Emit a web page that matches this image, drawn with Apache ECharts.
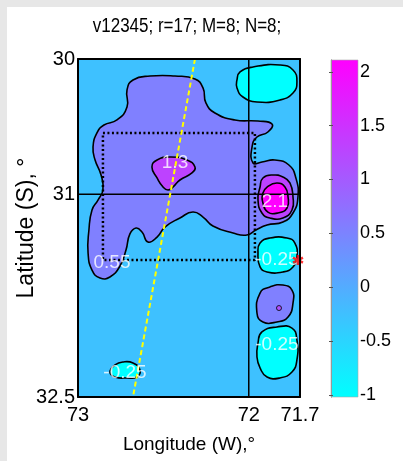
<!DOCTYPE html>
<html><head><meta charset="utf-8">
<script src="https://cdn.jsdelivr.net/npm/echarts@6/dist/echarts.min.js"></script>
<style>
html,body{margin:0;padding:0;background:#e7e7e7;}
#wrap{position:relative;width:403px;height:461px;overflow:hidden;}
#paper{position:absolute;left:7px;top:7px;width:396px;height:454px;background:#fff;}
#c{position:absolute;left:0;top:0;width:403px;height:461px;}
</style>
</head><body><div id="wrap"><div id="paper"></div><div id="c"></div></div>
<script>
// ---------------- data ----------------
const titleText = 'v12345; r=17; M=8; N=8;';
const lonTicks = [73, 72, 71.7];
const latTicks = [30, 31, 32.5];
const lonRange = [71.7, 73];
const latRange = [30, 32.5];
const cbTicks = [-1, -0.5, 0, 0.5, 1, 1.5, 2];
const levelRange = [-1, 2.1];
const cbExtent = [-1.02, 2.11];
const backgroundLevel = -0.25;

// contour regions: [lon, lat] vertices
const mainRegion = [
  [72.713,30.355],[72.713,30.229],[72.678,30.155],[72.578,30.126],[72.432,30.126],[72.315,30.148],
  [72.268,30.214],[72.251,30.325],[72.198,30.399],[72.081,30.451],[71.946,30.459],[71.864,30.481],
  [71.888,30.540],[71.952,30.577],[71.981,30.651],[71.975,30.769],[71.923,30.762],[71.847,30.747],
  [71.765,30.784],[71.724,30.880],[71.712,31.021],[71.741,31.139],[71.800,31.206],[71.893,31.228],
  [71.958,31.265],[72.011,31.302],[72.092,31.287],[72.210,31.235],[72.268,31.169],[72.327,31.132],
  [72.403,31.176],[72.491,31.243],[72.537,31.317],[72.590,31.354],[72.625,31.280],[72.660,31.250],
  [72.696,31.294],[72.719,31.413],[72.754,31.531],[72.813,31.612],[72.871,31.620],[72.918,31.561],
  [72.941,31.435],[72.936,31.265],[72.918,31.117],[72.883,31.043],[72.854,30.969],[72.865,30.858],
  [72.900,30.747],[72.912,30.651],[72.889,30.547],[72.848,30.488],[72.772,30.451]
];
const peakWest = [
  [72.567,30.799],[72.537,30.747],[72.461,30.725],[72.362,30.747],[72.315,30.799],[72.333,30.843],
  [72.403,30.895],[72.444,30.947],[72.473,30.969],[72.502,30.947],[72.537,30.880]
];
const peakEastRing = [
  [71.934,30.947],[71.917,30.880],[71.858,30.858],[71.800,30.873],[71.759,30.917],[71.741,31.021],
  [71.747,31.117],[71.800,31.176],[71.876,31.176],[71.923,31.139],[71.946,31.043]
];
const peakEastCore = [
  [71.917,30.991],[71.893,30.947],[71.835,30.917],[71.788,30.947],[71.770,31.021],[71.776,31.102],
  [71.829,31.139],[71.888,31.132],[71.917,31.065]
];
const lowNorthEast = [
  [72.069,30.155],[72.051,30.096],[71.975,30.059],[71.817,30.044],[71.741,30.081],[71.718,30.170],
  [71.741,30.251],[71.817,30.303],[71.952,30.318],[72.034,30.281],[72.069,30.214]
];
const lowEastMid = [
  [71.946,31.435],[71.934,31.361],[71.876,31.324],[71.776,31.324],[71.730,31.361],[71.718,31.464],
  [71.741,31.538],[71.800,31.575],[71.893,31.575],[71.934,31.538]
];
const highEastLow = [
  [71.952,31.879],[71.934,31.731],[71.876,31.686],[71.800,31.672],[71.747,31.709],[71.741,31.805],
  [71.770,31.908],[71.835,31.945],[71.917,31.945]
];
const lowEastSouth = [
  [71.946,32.101],[71.923,32.019],[71.835,31.982],[71.747,31.990],[71.718,32.078],[71.718,32.226],
  [71.747,32.315],[71.817,32.359],[71.893,32.352],[71.934,32.285],[71.952,32.204]
];
const lowSouthWest = [
  [72.813,32.315],[72.783,32.263],[72.737,32.241],[72.678,32.248],[72.637,32.300],[72.655,32.352],
  [72.713,32.359],[72.783,32.352]
];
const backgroundRegion = [[lonRange[1],latRange[0]],[lonRange[0],latRange[0]],[lonRange[0],latRange[1]],[lonRange[1],latRange[1]]];

const regionList = [backgroundRegion, mainRegion, peakWest, peakEastRing, peakEastCore, lowNorthEast, lowEastMid, highEastLow, lowEastSouth, lowSouthWest];
const regionLevels = [backgroundLevel, 0.55, 1.3, 1.3, 2.1, -1, -1, 0.55, -1, -1];

const labelText = ['1.3', '2.1', '-0.25', '-0.25', '-0.25', '0.55'];
const labelLon  = [72.432, 71.847, 71.835, 71.835, 72.725, 72.801];
const labelLat  = [30.769, 31.058, 31.487, 32.115, 32.322, 31.509];

const boxLon = [72.854, 71.964];
const boxLat = [30.547, 31.487];
const crossLon = 72;
const crossLat = 31;
const trackLon = [72.315, 72.678];
const trackLat = [30, 32.5];
const starPoint = [71.712, 31.487];
const dotPoint = [71.823, 31.842];
const dotLevel = 1.3;

// ---------------- chart ----------------
const FONT = "'Liberation Sans', Arial, sans-serif";
const cmap = ['#00ffff', '#ff00ff'];
const chart = echarts.init(document.getElementById('c'), null, {renderer: 'canvas'});

const tickFont = {color: '#000', fontSize: 20, fontFamily: FONT};

const option = {
  animation: false,
  backgroundColor: 'transparent',
  graphic: [{
    type: 'text', x: 187, y: 26, z: 10, scaleX: 0.85,
    style: {text: titleText, fill: '#000', fontSize: 20, fontFamily: FONT,
            align: 'center', verticalAlign: 'middle', textAlign: 'center', textVerticalAlign: 'middle'}
  }],
  visualMap: [{
    type: 'continuous', show: false, seriesIndex: [0], dimension: 1,
    min: levelRange[0], max: levelRange[1], inRange: {color: cmap}
  }],
  grid: [
    {left: 78, top: 59, width: 222, height: 338, outerBoundsMode: 'none', containLabel: false},
    {left: 331, top: 60, width: 27, height: 337, outerBoundsMode: 'none', containLabel: false}
  ],
  xAxis: [
    {gridIndex: 0, type: 'value', min: lonRange[0], max: lonRange[1], inverse: true, position: 'bottom', z: 10,
     axisLine: {show: true, onZero: false, lineStyle: {color: '#000', width: 2}},
     axisTick: {show: false}, splitLine: {show: false},
     axisLabel: Object.assign({customValues: lonTicks, margin: 8}, tickFont),
     name: 'Longitude (W),°', nameLocation: 'middle', nameGap: 38, nameMoveOverlap: false,
     nameTextStyle: {color: '#000', fontSize: 19, fontFamily: FONT}},
    {gridIndex: 0, type: 'value', min: lonRange[0], max: lonRange[1], inverse: true, position: 'top', z: 10,
     axisLine: {show: true, onZero: false, lineStyle: {color: '#000', width: 2}},
     axisTick: {show: false}, splitLine: {show: false}, axisLabel: {show: false}},
    {gridIndex: 1, type: 'value', min: 0, max: 1, show: false}
  ],
  yAxis: [
    {gridIndex: 0, type: 'value', min: latRange[0], max: latRange[1], inverse: true, position: 'left', z: 10,
     axisLine: {show: true, onZero: false, lineStyle: {color: '#000', width: 2}},
     axisTick: {show: false}, splitLine: {show: false},
     axisLabel: Object.assign({customValues: latTicks, margin: 3}, tickFont),
     name: 'Latitude (S), °', nameLocation: 'middle', nameRotate: 90, nameGap: 40, nameMoveOverlap: false,
     nameTextStyle: {color: '#000', fontSize: 23, fontFamily: FONT}},
    {gridIndex: 0, type: 'value', min: latRange[0], max: latRange[1], inverse: true, position: 'right', z: 10,
     axisLine: {show: true, onZero: false, lineStyle: {color: '#000', width: 2}},
     axisTick: {show: false}, splitLine: {show: false}, axisLabel: {show: false}},
    {gridIndex: 1, type: 'value', min: cbExtent[0], max: cbExtent[1], position: 'right', z: 10,
     axisLine: {show: true, lineStyle: {color: '#999', width: 1}},
     axisTick: {show: true, inside: true, length: 2, customValues: cbTicks, lineStyle: {color: '#555'}},
     splitLine: {show: false},
     axisLabel: {customValues: cbTicks, margin: 2, color: '#000', fontSize: 18, fontFamily: FONT}},
    {gridIndex: 1, type: 'value', min: cbExtent[0], max: cbExtent[1], position: 'left', z: 10,
     axisLine: {show: true, lineStyle: {color: '#999', width: 1}},
     axisTick: {show: true, inside: true, length: 2, customValues: cbTicks, lineStyle: {color: '#555'}},
     splitLine: {show: false}, axisLabel: {show: false}}
  ],
  series: [
    { // filled contour regions
      type: 'custom', xAxisIndex: 0, yAxisIndex: 0, z: 2,
      data: regionLevels.map((lv, i) => [i, lv]),
      renderItem: function (params, api) {
        const idx = api.value(0);
        const pts = regionList[idx].map(p => api.coord(p));
        const isBg = idx === 0;
        return {
          type: 'polygon',
          shape: {points: pts, smooth: isBg ? 0 : 0.5},
          style: {fill: api.visual('color'), stroke: isBg ? null : '#000', lineWidth: isBg ? 0 : 1.6}
        };
      }
    },
    { // dotted box
      type: 'line', xAxisIndex: 0, yAxisIndex: 0, z: 3, showSymbol: false, silent: true,
      data: [[boxLon[0], boxLat[0]], [boxLon[1], boxLat[0]], [boxLon[1], boxLat[1]], [boxLon[0], boxLat[1]], [boxLon[0], boxLat[0]]],
      lineStyle: {color: '#000', width: 2.5, type: [2, 2.5]}
    },
    { // vertical crosshair
      type: 'line', xAxisIndex: 0, yAxisIndex: 0, z: 3, showSymbol: false, silent: true,
      data: [[crossLon, latRange[0]], [crossLon, latRange[1]]],
      lineStyle: {color: '#000', width: 1.5}
    },
    { // horizontal crosshair
      type: 'line', xAxisIndex: 0, yAxisIndex: 0, z: 3, showSymbol: false, silent: true,
      data: [[lonRange[1], crossLat], [lonRange[0], crossLat]],
      lineStyle: {color: '#000', width: 1.5}
    },
    { // yellow track
      type: 'line', xAxisIndex: 0, yAxisIndex: 0, z: 4, showSymbol: false, silent: true,
      data: [[trackLon[0], trackLat[0]], [trackLon[1], trackLat[1]]],
      lineStyle: {color: '#ffff00', width: 2, type: [5, 3]}
    },
    { // contour labels
      type: 'scatter', xAxisIndex: 0, yAxisIndex: 0, z: 5, symbolSize: 0, silent: true,
      data: labelText.map((t, i) => [labelLon[i], labelLat[i], t]),
      label: {show: true, position: 'inside', formatter: p => p.value[2],
              color: '#fff', fontSize: 19, fontFamily: FONT}
    },
    { // small peak dot
      type: 'scatter', xAxisIndex: 0, yAxisIndex: 0, z: 5, symbol: 'circle', symbolSize: 5, silent: true,
      data: [[dotPoint[0], dotPoint[1], dotLevel]],
      itemStyle: {color: '#bd42ff', borderColor: '#000', borderWidth: 1}
    },
    { // red star
      type: 'scatter', xAxisIndex: 0, yAxisIndex: 0, z: 6, silent: true,
      symbol: 'path://M10,0L10,20M1.3,5L18.7,15M1.3,15L18.7,5', symbolSize: 10,
      data: [starPoint],
      itemStyle: {color: 'rgba(0,0,0,0)', borderColor: '#ff0000', borderWidth: 2.5}
    },
    { // colorbar
      type: 'custom', xAxisIndex: 2, yAxisIndex: 2, z: 2, silent: true,
      data: [[0, cbExtent[0], cbExtent[1]]],
      renderItem: function (params, api) {
        const p0 = api.coord([0, api.value(2)]);
        const p1 = api.coord([1, api.value(1)]);
        return {
          type: 'rect',
          shape: {x: p0[0], y: p0[1], width: p1[0] - p0[0], height: p1[1] - p0[1]},
          style: {
            fill: new echarts.graphic.LinearGradient(0, 0, 0, 1, [{offset: 0, color: cmap[1]}, {offset: 1, color: cmap[0]}]),
            stroke: '#aaa', lineWidth: 0.6
          }
        };
      }
    }
  ]
};
chart.setOption(option);
</script>
</body></html>
